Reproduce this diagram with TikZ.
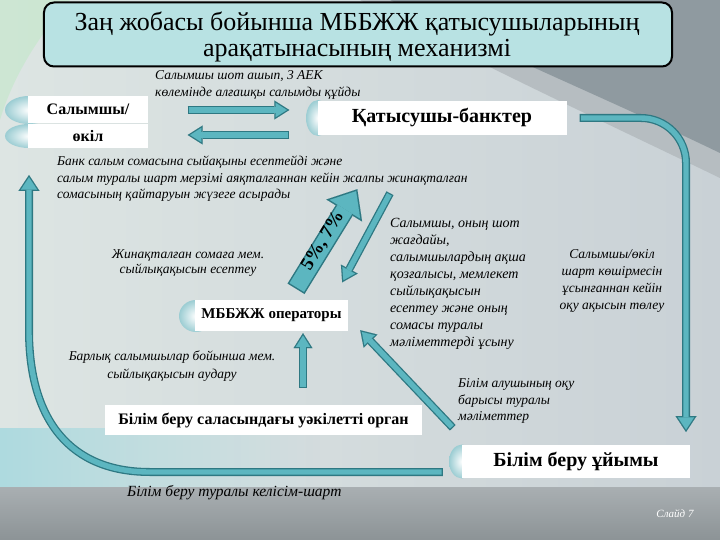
\documentclass[tikz,border=0pt]{standalone}
\usepackage{fontspec}
\setmainfont{Liberation Serif}
\usetikzlibrary{arrows.meta,calc,fadings}
\definecolor{tfill}{HTML}{5CB6C0}
\definecolor{tdark}{HTML}{2E7882}
\definecolor{titlefill}{HTML}{B8E2E3}
\definecolor{bgA}{HTML}{DDE5E3}
\definecolor{bgB}{HTML}{C9D1D6}
\definecolor{grayband}{HTML}{B6BDC1}
\definecolor{graydark}{HTML}{8F9AA0}
\definecolor{botA}{HTML}{A9AFB2}
\definecolor{botB}{HTML}{8C9396}
\definecolor{tealpatch}{HTML}{AEDADF}
\definecolor{sph}{HTML}{9CCDD3}
\begin{document}
\begin{tikzpicture}[x=1bp,y=-1bp,
  box/.style={fill=white, inner sep=0pt, font=\bfseries},
  note/.style={inner sep=0pt, font=\itshape\fontsize{13.5bp}{16.5bp}\selectfont},
  sphere/.style={inner color=white, outer color=sph},
  titlebox/.style={fill=titlefill, draw=black, line width=2bp, rounded corners=10bp, inner sep=0pt},
  titletext/.style={inner sep=0pt, align=center, font=\fontsize{26bp}{26bp}\selectfont},
  outA/.style={draw=tdark, line width=8bp, -{Triangle[width=19bp,length=15bp,line width=0.01bp]}},
  inA/.style={draw=tfill, line width=5.4bp, shorten >=2.43bp, shorten <=1.3bp, -{Triangle[width=14.3bp,length=11.27bp,line width=0.01bp]}},
  outB/.style={draw=tdark, line width=20bp, -{Triangle[width=42bp,length=25bp,line width=0.01bp]}},
  inB/.style={draw=tfill, line width=17bp, shorten >=2.33bp, shorten <=1.5bp, -{Triangle[width=35.6bp,length=21.17bp,line width=0.01bp]}},
  outP/.style={draw=tdark, line width=8bp, -{Triangle[width=21bp,length=16bp,line width=0.01bp]}},
  inP/.style={draw=tfill, line width=5.4bp, shorten >=2.37bp, shorten <=1.3bp, -{Triangle[width=16.2bp,length=12.33bp,line width=0.01bp]}},
]
% background
\useasboundingbox (0,0) rectangle (720,540);
\shade[left color=bgA, right color=bgB] (0,0) rectangle (720,540);
\fill[green!20!bgA, opacity=0.35] (0,0) -- (70,0) .. controls (35,40) and (12,80) .. (0,120) -- cycle;
\fill[grayband] (360,0) .. controls (470,60) and (600,120) .. (720,178) -- (720,0) -- cycle;
\fill[graydark] (390,0) .. controls (490,50) and (610,100) .. (720,153) -- (720,0) -- cycle;
\fill[tealpatch, path fading=east] (0,428) rectangle (320,487);
\shade[top color=botA, bottom color=botB] (0,487) rectangle (720,540);

% title
\node[titlebox, minimum width=628bp, minimum height=64bp] (title) at (358,34.5) {};
\node[titletext] (titletxt) at (357,37)
  {Заң жобасы бойынша МББЖЖ қатысушыларының\\арақатынасының механизмі};

% spheres
\shade[sphere] (29,110) ellipse [x radius=24bp, y radius=14bp];
\shade[sphere] (29,136) ellipse [x radius=24bp, y radius=12bp];
\shade[sphere] (318,118) ellipse [x radius=12bp, y radius=18bp];
\shade[sphere] (196,316) ellipse [x radius=17bp, y radius=16bp];
\shade[sphere] (462,461.5) ellipse [x radius=13bp, y radius=17bp];

% boxes
\node[box, minimum width=119bp, minimum height=27bp, font=\bfseries\fontsize{16bp}{18bp}\selectfont] (sal) at (88,109.5) {Салымшы/};
\node[box, minimum width=119bp, minimum height=24bp, font=\bfseries\fontsize{16bp}{18bp}\selectfont] (okil) at (88,136) {өкіл};
\node[box, minimum width=249bp, minimum height=34bp, font=\bfseries\fontsize{20bp}{22bp}\selectfont] (bank) at (442,118) {Қатысушы-банктер};
\node[box, minimum width=153bp, minimum height=31bp, font=\bfseries\fontsize{15bp}{17bp}\selectfont] (oper) at (271.5,315.5) {МББЖЖ операторы};
\node[box, minimum width=317bp, minimum height=30bp, font=\bfseries\fontsize{16bp}{18bp}\selectfont] (organ) at (263.5,420) {Білім беру саласындағы уәкілетті орган};
\node[box, minimum width=228bp, minimum height=33bp, font=\bfseries\fontsize{20bp}{22bp}\selectfont] (org) at (576,461.5) {Білім беру ұйымы};

% helper coordinates
\coordinate (rpstart) at ($(bank.east)+(13,0)$);
\coordinate (rpcorner) at (686,118);
\coordinate (rpend) at (686,432);
\coordinate (lpstart) at ($(org.west)+(-19,10.5)$);
\coordinate (lpend) at (29,175);

% pipes
\foreach \sty in {outP,inP}
  \draw[\sty, rounded corners=45bp] (rpstart) -- (rpcorner) -- (rpend);
\foreach \sty in {outP,inP}
  \draw[\sty] (lpstart) -- (150,472) .. controls (70,472) and (29,420) .. (29,330) -- (lpend);

% block arrows
\foreach \sty in {outA,inA} {
  \draw[\sty] ($(sal.east)+(40,0.5)$) -- ($(sal.east -| bank.west)+(-28,0.5)$);
  \draw[\sty] ($(okil.east -| bank.west)+(-28,-1)$) -- ($(okil.east)+(40,-1)$);
  \draw[\sty] ($(organ.north)+(39.5,-17)$) -- ($(oper.south)+(31.5,2)$);
  \draw[\sty] ($(org.north west)+(-9,-17)$) -- ($(oper.south east)+(12,-1)$);
  \draw[\sty] ($(bank.south)+(-52,58)$) -- ($(oper.north east)+(-6,-17.5)$);
}
\foreach \sty in {outB,inB}
  \draw[\sty] ($(oper.north)+(24.5,-11)$) -- ($(bank.south west)+(40,54)$);
\node[font=\bfseries\fontsize{19bp}{21bp}\selectfont, rotate=59, inner sep=0pt] (pct) at (323,241) {5\%, 7\%};

% notes
\node[note, anchor=west, align=left, font=\itshape\fontsize{13.5bp}{17bp}\selectfont] (t1) at (155,84.5)
  {Салымшы шот ашып, 3 АЕК\\көлемінде алғашқы салымды құйды};
\node[note, anchor=west, align=left] (t2) at (57,179)
  {Банк салым сомасына сыйақыны есептейді және\\салым туралы шарт мерзімі аяқталғаннан кейін жалпы жинақталған\\сомасының қайтаруын жүзеге асырады};
\node[note, align=center, font=\itshape\fontsize{13.5bp}{15bp}\selectfont] (t3) at (188,263.5)
  {Жинақталған сомаға мем.\\сыйлықақысын есептеу};
\node[note, anchor=west, align=left, font=\itshape\fontsize{14bp}{16.9bp}\selectfont] (t4) at (390,284)
  {Салымшы, оның шот\\жағдайы,\\салымшылардың ақша\\қозғалысы, мемлекет\\сыйлықақысын\\есептеу және оның\\сомасы туралы\\мәліметтерді ұсыну};
\node[note, align=center, font=\itshape\fontsize{13.5bp}{17bp}\selectfont] (t5) at (612,281)
  {Салымшы/өкіл\\шарт көшірмесін\\ұсынғаннан кейін\\оқу ақысын төлеу};
\node[note, align=center, font=\itshape\fontsize{13.5bp}{18bp}\selectfont] (t6) at (172,366)
  {Барлық салымшылар бойынша мем.\\сыйлықақысын аудару};
\node[note, anchor=west, align=left] (t7) at (458,401)
  {Білім алушының оқу\\барысы туралы\\мәліметтер};
\node[note, anchor=west, font=\itshape\fontsize{15.5bp}{17bp}\selectfont] (t8) at (127,493) {Білім беру туралы келісім-шарт};
\node[note, text=white, font=\itshape\fontsize{11bp}{13bp}\selectfont] (slide) at (675,514) {Слайд 7};
\end{tikzpicture}
\end{document}
